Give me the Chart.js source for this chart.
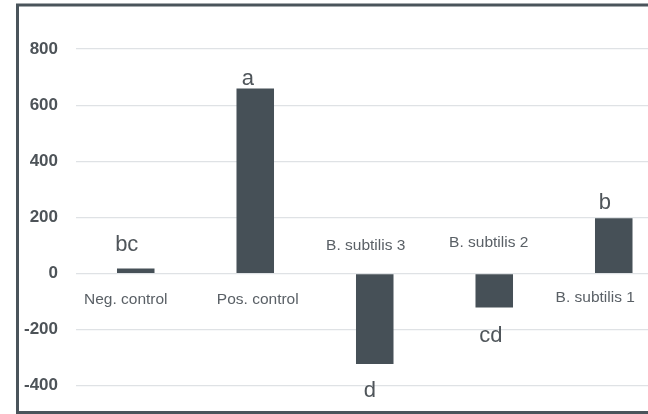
<!DOCTYPE html>
<html>
<head>
<meta charset="utf-8">
<script src="https://cdn.jsdelivr.net/npm/chart.js@4/dist/chart.umd.min.js"></script>
<style>
  html, body { margin: 0; padding: 0; background: #ffffff; }
  #wrap { position: relative; width: 648px; height: 414px; overflow: hidden; background: #fff; }
  #c { position: absolute; left: 0; top: 0; }
</style>
</head>
<body>
<div id="wrap"><canvas id="c" width="680" height="414"></canvas></div>
<script>
const categories = ['Neg. control', 'Pos. control', 'B. subtilis 3', 'B. subtilis 2', 'B. subtilis 1'];
const values = [18, 659, -322, -121, 197];
const letters = ['bc', 'a', 'd', 'cd', 'b'];
const yMin = -400;
const yMax = 800;
const yStep = 200;

// label placement offsets (styling, hand-placed text boxes in the original)
const catDx = [-10, 2.5, -9, -5.5, -18.5];
const catDy = [26.5, 26.5, -27.5, -30.5, 24.5];
const letDx = [-9, -7.5, -5, -3.5, -9];
const letDy = [-17, -3.7, 32.6, 34.3, -9.4];

const FONT = '"Liberation Sans", Arial, Helvetica, sans-serif';

const annot = {
  id: 'annot',
  afterDatasetsDraw(chart) {
    const ctx = chart.ctx;
    const meta = chart.getDatasetMeta(0);
    const y0 = chart.scales.y.getPixelForValue(0);
    ctx.save();
    ctx.textAlign = 'center';
    ctx.fillStyle = '#5a6066';
    ctx.font = '15.5px ' + FONT;
    ctx.textBaseline = 'middle';
    meta.data.forEach((bar, i) => {
      ctx.fillText(categories[i], bar.x + catDx[i], y0 + catDy[i]);
    });
    ctx.fillStyle = '#4f555a';
    ctx.font = '22px ' + FONT;
    ctx.textBaseline = 'alphabetic';
    meta.data.forEach((bar, i) => {
      ctx.fillText(letters[i], bar.x + letDx[i], bar.y + letDy[i]);
    });
    ctx.strokeStyle = '#4a545b';
    ctx.lineWidth = 3;
    ctx.strokeRect(17.5, 5, chart.width + 40, 407.5);
    ctx.restore();
  }
};

new Chart(document.getElementById('c'), {
  type: 'bar',
  data: {
    labels: categories,
    datasets: [{
      data: values,
      backgroundColor: '#465057',
      borderWidth: 0,
      categoryPercentage: 1.0,
      barPercentage: 0.314
    }]
  },
  options: {
    responsive: false,
    animation: false,
    devicePixelRatio: 1,
    layout: { padding: { left: 0, right: 6.5, top: 49, bottom: 27 } },
    plugins: { legend: { display: false }, tooltip: { enabled: false } },
    scales: {
      x: { display: false },
      y: {
        min: yMin,
        max: yMax,
        afterFit(scale) { scale.width = 76; },
        ticks: {
          stepSize: yStep,
          padding: 18,
          color: '#4d5358',
          font: { family: FONT, size: 17, weight: 'bold' }
        },
        grid: { color: '#dfe2e5', lineWidth: 1.2, drawTicks: false },
        border: { display: false }
      }
    }
  },
  plugins: [annot]
});
</script>
</body>
</html>
